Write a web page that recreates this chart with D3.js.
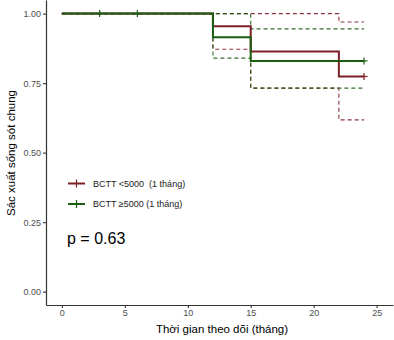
<!DOCTYPE html>
<html>
<head>
<meta charset="utf-8">
<script src="https://cdn.jsdelivr.net/npm/d3@7"></script>
<style>
  html,body{margin:0;padding:0;background:#fff}
  svg{display:block;font-family:'Liberation Sans',Arial,sans-serif}
  text{white-space:pre}
</style>
</head>
<body>
<svg id="chart" width="394" height="340"></svg>
<script>
// step times and estimates (Kaplan-Meier)
const redTimes = [0, 12, 15, 22, 24];
const redSurv  = [1, 0.955, 0.864, 0.774, 0.774];
const redUpper = [1, 1, 1, 0.97, 0.97];
const redLower = [1, 0.872, 0.732, 0.618, 0.618];
const redCensor = [24];

const greenTimes = [0, 12, 15, 24];
const greenSurv  = [1, 0.915, 0.830, 0.830];
const greenUpper = [1, 1, 0.945, 0.945];
const greenLower = [1, 0.84, 0.732, 0.732];
const greenCensor = [3, 6, 24];

const xTicks = [0, 5, 10, 15, 20, 25];
const yTicks = [0, 0.25, 0.5, 0.75, 1];

const groups = [
  { label: 'BCTT <5000  (1 tháng)', color: '#7d1f27', t: redTimes, s: redSurv, up: redUpper, lo: redLower, cens: redCensor },
  { label: 'BCTT \u22655000 (1 tháng)', color: '#1a5e0f', t: greenTimes, s: greenSurv, up: greenUpper, lo: greenLower, cens: greenCensor },
];

const svg = d3.select('#chart');
const margin = { left: 46, right: 1, top: 0, bottom: 35 };
const W = 394, H = 340;

const x = d3.scaleLinear().domain([-1.26, 26.3]).range([margin.left, W - margin.right]);
const y = d3.scaleLinear().domain([-0.048, 1.049]).range([H - margin.bottom, margin.top]);

const stepLine = d3.line().x(d => x(d[0])).y(d => y(d[1])).curve(d3.curveStepAfter);
const pts = (t, v) => t.map((ti, i) => [ti, v[i]]);

// confidence bands (dashed)
groups.forEach(g => {
  [g.up, g.lo].forEach(v => {
    svg.append('path').datum(pts(g.t, v)).attr('d', stepLine)
      .attr('fill', 'none').attr('stroke', g.color).attr('stroke-width', 1.1)
      .attr('stroke-dasharray', '4,3').attr('opacity', 0.9);
  });
});

// survival curves
groups.forEach(g => {
  svg.append('path').datum(pts(g.t, g.s)).attr('d', stepLine)
    .attr('fill', 'none').attr('stroke', g.color).attr('stroke-width', 2);
  const survAt = tt => { let v = g.s[0]; g.t.forEach((ti, i) => { if (ti <= tt) v = g.s[i]; }); return v; };
  g.cens.forEach(c => {
    const cx = x(c), cy = y(survAt(c));
    svg.append('line').attr('x1', cx - 3.5).attr('x2', cx + 3.5).attr('y1', cy).attr('y2', cy)
      .attr('stroke', g.color).attr('stroke-width', 1.2);
    svg.append('line').attr('x1', cx).attr('x2', cx).attr('y1', cy - 3.5).attr('y2', cy + 3.5)
      .attr('stroke', g.color).attr('stroke-width', 1.2);
  });
});

// axes
const xAxis = svg.append('g').attr('transform', `translate(0,${H - margin.bottom})`)
  .call(d3.axisBottom(x).tickValues(xTicks).tickSize(3).tickPadding(2).tickSizeOuter(0));
const yAxis = svg.append('g').attr('transform', `translate(${margin.left},0)`)
  .call(d3.axisLeft(y).tickValues(yTicks).tickFormat(d3.format('.2f')).tickSize(3).tickPadding(2).tickSizeOuter(0));
[xAxis, yAxis].forEach(a => {
  a.select('.domain').attr('stroke', '#333').attr('stroke-width', 1.2);
  a.selectAll('.tick line').attr('stroke', '#333').attr('stroke-width', 1.1);
  a.selectAll('.tick text').attr('fill', '#4d4d4d').style('font-size', '9px')
    .style('font-family', "'Liberation Sans',Arial,sans-serif");
});

svg.append('text').attr('x', 222).attr('y', 333).attr('text-anchor', 'middle')
  .attr('fill', '#000').style('font-size', '11.5px').text('Thời gian theo dõi (tháng)');
svg.append('text').attr('transform', 'translate(15,153) rotate(-90)').attr('text-anchor', 'middle')
  .attr('fill', '#000').style('font-size', '11.5px').text('Sác xuất sống sót chung');

// legend
groups.forEach((g, i) => {
  const ly = 183.5 + i * 20.5;
  svg.append('line').attr('x1', 68).attr('x2', 85).attr('y1', ly).attr('y2', ly)
    .attr('stroke', g.color).attr('stroke-width', 2);
  svg.append('line').attr('x1', 76.5).attr('x2', 76.5).attr('y1', ly - 4).attr('y2', ly + 4)
    .attr('stroke', g.color).attr('stroke-width', 1.2);
  svg.append('text').attr('x', 93).attr('y', ly + 3.3).attr('fill', '#1a1a1a')
    .style('font-size', '9px').text(g.label);
});

svg.append('text').attr('x', 67).attr('y', 244).attr('fill', '#000')
  .style('font-size', '16px').text('p = 0.63');
</script>
</body>
</html>
